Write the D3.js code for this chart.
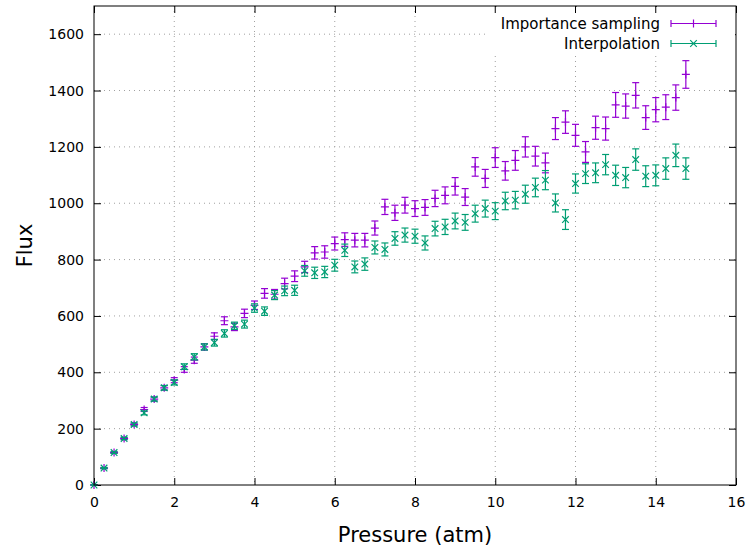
<!DOCTYPE html>
<html lang="en">
<head>
    <meta charset="UTF-8">
    <title>Flux vs Pressure</title>
    <script src="https://d3js.org/d3.v7.min.js"></script>
    <style>
        body { margin: 0; background: #fff; }
        text { font-family: "DejaVu Sans", sans-serif; fill: #000; }
        .grid line { stroke: #a0a0a0; stroke-width: 1; stroke-dasharray: 1 4; }
        .tick-label { font-size: 14px; }
    </style>
</head>
<body>
    <svg id="chart"></svg>
    <script>
        const width = 748;
        const height = 549;

        // pressure values (atm)
        const pressure = [0, 0.25, 0.5, 0.75, 1, 1.25, 1.5, 1.75, 2, 2.25, 2.5, 2.75, 3, 3.25, 3.5, 3.75,
            4, 4.25, 4.5, 4.75, 5, 5.25, 5.5, 5.75, 6, 6.25, 6.5, 6.75, 7, 7.25, 7.5, 7.75,
            8, 8.25, 8.5, 8.75, 9, 9.25, 9.5, 9.75, 10, 10.25, 10.5, 10.75, 11, 11.25, 11.5, 11.75,
            12, 12.25, 12.5, 12.75, 13, 13.25, 13.5, 13.75, 14, 14.25, 14.5, 14.75];

        const importanceFlux = [0, 60, 115, 165, 215, 268, 305, 345, 372, 410, 443, 490, 528, 583, 561, 609,
            638, 680, 677, 715, 741, 774, 824, 827, 857, 871, 869, 869, 912, 987, 966, 993,
            981, 985, 1017, 1028, 1060, 1022, 1129, 1088, 1162, 1115, 1152, 1200, 1167, 1143, 1265, 1288,
            1241, 1182, 1268, 1265, 1349, 1345, 1383, 1304, 1332, 1341, 1375, 1457];
        const importanceErr = [0, 2, 3, 4, 5, 7, 7, 8, 9, 10, 11, 11, 12, 14, 13, 15,
            15, 17, 17, 19, 19, 20, 22, 22, 23, 24, 24, 24, 25, 27, 27, 28,
            28, 28, 29, 30, 31, 30, 33, 32, 35, 33, 35, 36, 35, 35, 39, 40,
            39, 37, 41, 41, 44, 43, 45, 42, 43, 44, 45, 49];

        const interpFlux = [0, 60, 115, 165, 215, 256, 305, 345, 364, 420, 455, 490, 505, 538, 565, 571,
            628, 617, 674, 689, 691, 760, 753, 756, 780, 833, 774, 784, 843, 836, 875, 887,
            883, 859, 910, 916, 937, 932, 963, 981, 972, 1008, 1011, 1032, 1056, 1082, 1001, 942,
            1070, 1105, 1108, 1137, 1099, 1091, 1155, 1096, 1099, 1123, 1170, 1123];
        const interpErr = [0, 2, 3, 4, 5, 7, 7, 8, 9, 10, 11, 11, 12, 13, 13, 14,
            15, 15, 16, 17, 18, 19, 20, 20, 21, 22, 21, 22, 23, 23, 24, 25,
            25, 25, 26, 27, 28, 28, 30, 30, 30, 31, 31, 32, 33, 34, 32, 35,
            34, 35, 35, 36, 36, 36, 38, 37, 37, 38, 40, 38];

        const xTicks = [0, 2, 4, 6, 8, 10, 12, 14, 16];
        const yTicks = [0, 200, 400, 600, 800, 1000, 1200, 1400, 1600];

        const series = [
            { name: 'Importance sampling', color: '#9400d3', marker: 'plus', flux: importanceFlux, err: importanceErr },
            { name: 'Interpolation', color: '#009e73', marker: 'cross', flux: interpFlux, err: interpErr }
        ];

        const margin = { top: 6, right: 12, bottom: 64, left: 94 };
        const plotW = width - margin.left - margin.right;
        const plotH = height - margin.top - margin.bottom;

        const svg = d3.select('#chart')
            .attr('width', width)
            .attr('height', height);

        const x = d3.scaleLinear().domain([0, 16]).range([0, plotW]);
        const y = d3.scaleLinear().domain([0, 1700]).range([plotH, 0]);

        const g = svg.append('g')
            .attr('transform', `translate(${margin.left},${margin.top})`);

        // dotted grid
        const grid = g.append('g').attr('class', 'grid');
        grid.selectAll('.gx')
            .data(xTicks.filter(d => d > 0 && d < 16))
            .enter().append('line')
            .attr('x1', d => x(d)).attr('x2', d => x(d))
            .attr('y1', 0).attr('y2', plotH);
        grid.selectAll('.gy')
            .data(yTicks.filter(d => d > 0))
            .enter().append('line')
            .attr('x1', 0).attr('x2', plotW)
            .attr('y1', d => y(d)).attr('y2', d => y(d));

        // axes with inward ticks on all sides
        const tickLen = 7;
        const fmt = d3.format('d');
        const bottomAxis = g.append('g')
            .attr('transform', `translate(0,${plotH})`)
            .call(d3.axisBottom(x).tickValues(xTicks).tickFormat(fmt).tickSizeInner(-tickLen).tickSizeOuter(0).tickPadding(12));
        const topAxis = g.append('g')
            .call(d3.axisTop(x).tickValues(xTicks).tickSizeInner(-tickLen).tickSizeOuter(0).tickFormat(''));
        const leftAxis = g.append('g')
            .call(d3.axisLeft(y).tickValues(yTicks).tickFormat(fmt).tickSizeInner(-tickLen).tickSizeOuter(0).tickPadding(10));
        const rightAxis = g.append('g')
            .attr('transform', `translate(${plotW},0)`)
            .call(d3.axisRight(y).tickValues(yTicks).tickSizeInner(-tickLen).tickSizeOuter(0).tickFormat(''));

        [bottomAxis, topAxis, leftAxis, rightAxis].forEach(a => {
            a.select('.domain').remove();
            a.selectAll('.tick line').attr('stroke', '#000');
            a.selectAll('.tick text')
                .attr('class', 'tick-label')
                .style('font-family', '"DejaVu Sans", sans-serif')
                .style('font-size', '14px');
        });

        // data
        const capW = 3.5;
        series.forEach(s => {
            const pts = pressure.map((p, i) => ({ p, v: s.flux[i], e: s.err[i] }));
            const sg = g.append('g')
                .attr('stroke', s.color)
                .attr('stroke-width', 1.2)
                .attr('fill', 'none');

            const bars = sg.selectAll('.bar')
                .data(pts)
                .enter().append('g');
            bars.append('line')
                .attr('x1', d => x(d.p)).attr('x2', d => x(d.p))
                .attr('y1', d => y(d.v - d.e)).attr('y2', d => y(d.v + d.e));
            bars.append('line')
                .attr('x1', d => x(d.p) - capW).attr('x2', d => x(d.p) + capW)
                .attr('y1', d => y(d.v - d.e)).attr('y2', d => y(d.v - d.e));
            bars.append('line')
                .attr('x1', d => x(d.p) - capW).attr('x2', d => x(d.p) + capW)
                .attr('y1', d => y(d.v + d.e)).attr('y2', d => y(d.v + d.e));
            bars.append('path')
                .attr('d', d => markerPath(s.marker, x(d.p), y(d.v)));
        });

        // plot border
        g.append('rect')
            .attr('width', plotW).attr('height', plotH)
            .attr('fill', 'none').attr('stroke', '#000').attr('stroke-width', 1);

        // legend (opaque key)
        const key = g.append('g');
        key.append('rect')
            .attr('x', 395).attr('y', 1)
            .attr('width', plotW - 395 - 1).attr('height', 48)
            .attr('fill', '#fff');
        // redraw top ticks covered by the key
        key.selectAll('.kt')
            .data(xTicks.filter(d => x(d) > 395 && d < 16))
            .enter().append('line')
            .attr('x1', d => x(d)).attr('x2', d => x(d))
            .attr('y1', 0).attr('y2', tickLen)
            .attr('stroke', '#000');

        series.forEach((s, i) => {
            const ky = 17.5 + i * 20;
            key.append('text')
                .attr('x', 566).attr('y', ky)
                .attr('dy', '0.35em')
                .attr('text-anchor', 'end')
                .style('font-size', '15px')
                .text(s.name);
            const kg = key.append('g').attr('stroke', s.color).attr('stroke-width', 1.2).attr('fill', 'none');
            kg.append('line').attr('x1', 577).attr('x2', 622).attr('y1', ky).attr('y2', ky);
            kg.append('line').attr('x1', 577).attr('x2', 577).attr('y1', ky - capW).attr('y2', ky + capW);
            kg.append('line').attr('x1', 622).attr('x2', 622).attr('y1', ky - capW).attr('y2', ky + capW);
            kg.append('path').attr('d', markerPath(s.marker, 599.5, ky));
        });

        // axis titles
        svg.append('text')
            .attr('x', margin.left + plotW / 2).attr('y', 542)
            .attr('text-anchor', 'middle')
            .style('font-size', '21px')
            .text('Pressure (atm)');
        svg.append('text')
            .attr('transform', `translate(32,${margin.top + plotH / 2}) rotate(-90)`)
            .attr('text-anchor', 'middle')
            .style('font-size', '21px')
            .text('Flux');

        function markerPath(type, cx, cy) {
            const r = 4;
            if (type === 'plus') {
                return `M${cx - r},${cy}H${cx + r}M${cx},${cy - r}V${cy + r}`;
            }
            const c = 3.3;
            return `M${cx - c},${cy - c}L${cx + c},${cy + c}M${cx - c},${cy + c}L${cx + c},${cy - c}`;
        }
    </script>
</body>
</html>
